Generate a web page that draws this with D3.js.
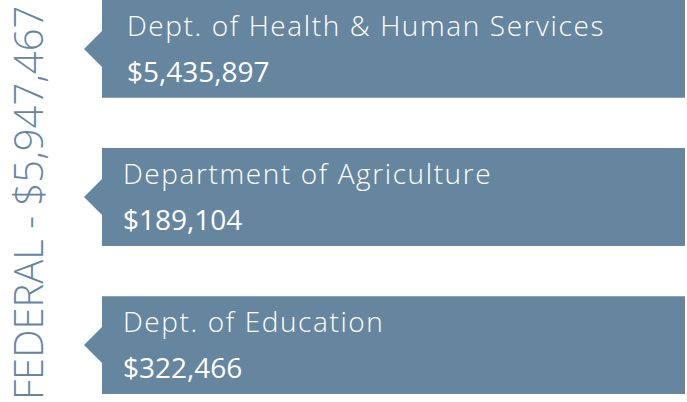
<!DOCTYPE html>
<html>
<head>
<meta charset="utf-8">
<script src="https://cdn.jsdelivr.net/npm/d3@7"></script>
<style>
  body { margin: 0; background: #fff; }
  text { font-family: "Open Sans", sans-serif; }
</style>
</head>
<body>
<div id="chart"></div>
<script>
// agencies and their funding
var agencies = ["Dept. of Health & Human Services", "Department of Agriculture", "Dept. of Education"];
var amounts = [5435897, 189104, 322466];
var totalLabel = "FEDERAL";
var total = 5947467;

var width = 687, height = 402;
var boxColor = "#66869f";

var svg = d3.select("#chart")
  .append("svg")
  .attr("width", width)
  .attr("height", height);

var fmt = d3.format("$,");

// box positions
var yScale = d3.scaleBand()
  .domain(agencies)
  .range([0, 394])
  .paddingInner(0.34);

var left = 102, right = 685, arrow = 18;

var g = svg.selectAll(".box")
  .data(agencies)
  .enter().append("g")
  .attr("class", "box")
  .attr("transform", function(d) { return "translate(0," + yScale(d) + ")"; });

g.append("path")
  .attr("d", function(d) {
    var h = yScale.bandwidth(), m = h / 2;
    return "M" + left + ",0H" + right + "V" + h + "H" + left +
      "V" + (m + 18) + "L" + (left - arrow) + "," + m + "L" + left + "," + (m - 18) + "Z";
  })
  .style("fill", boxColor);

g.append("text")
  .attr("x", function(d, i) { return i === 0 ? 127 : 123; })
  .attr("y", 36)
  .style("fill", "#fff")
  .style("font-weight", 300)
  .style("font-size", "28px")
  .style("letter-spacing", "1.6px")
  .text(function(d) { return d; });

g.append("text")
  .attr("x", function(d, i) { return i === 0 ? 127 : 123; })
  .attr("y", 82)
  .style("fill", "#fff")
  .style("font-weight", 400)
  .style("font-size", "28px")
  .text(function(d, i) { return fmt(amounts[i]); });

// rotated total label
svg.append("text")
  .attr("transform", "translate(43,400) rotate(-90)")
  .style("fill", "#66869f")
  .style("font-weight", 300)
  .style("font-size", "40px")
  .text(totalLabel + " - " + fmt(total));
</script>
</body>
</html>
